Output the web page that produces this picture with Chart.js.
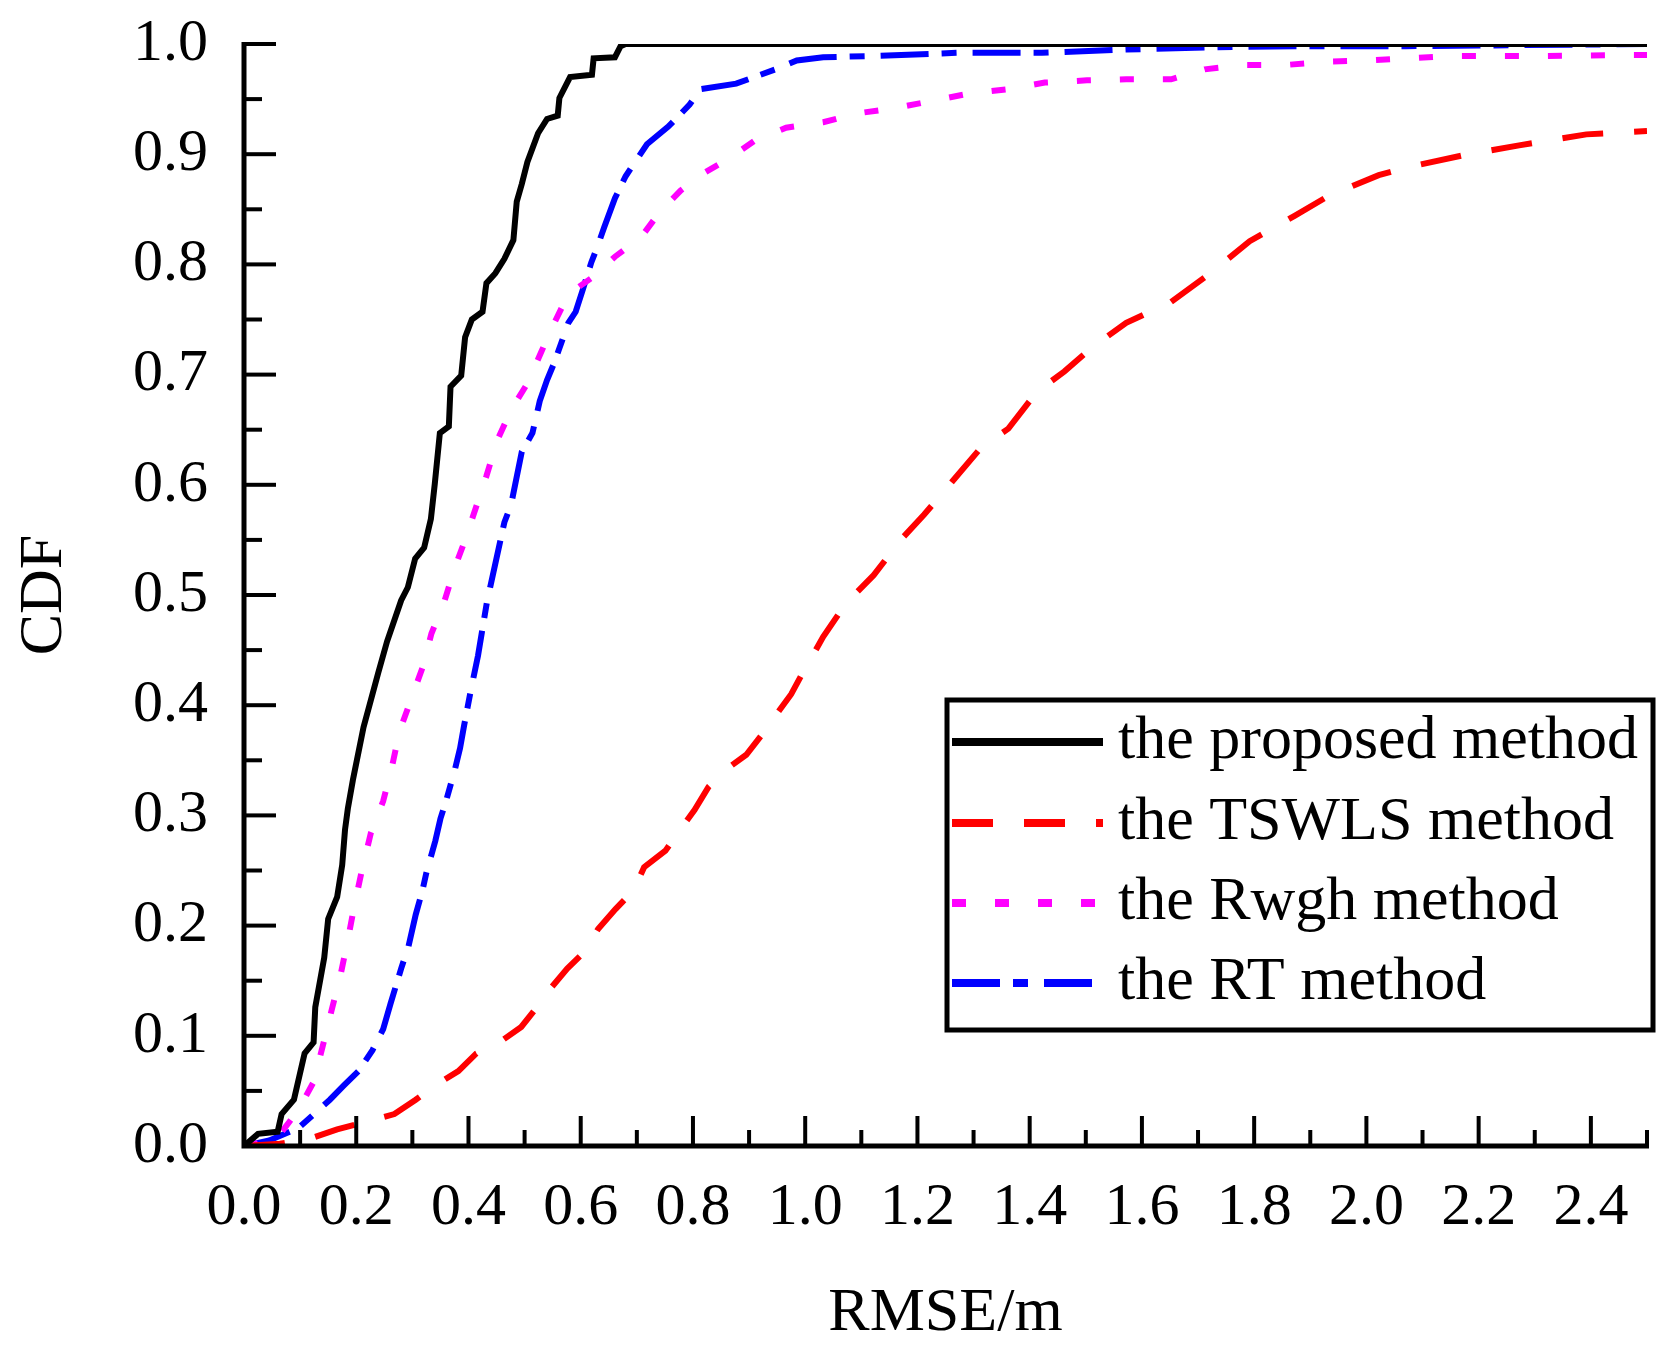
<!DOCTYPE html>
<html>
<head>
<meta charset="utf-8">
<script src="https://cdn.jsdelivr.net/npm/chart.js@4/dist/chart.umd.min.js"></script>
<style>
  html, body { margin: 0; padding: 0; background: #fff; }
  #wrap { width: 1676px; height: 1351px; }
</style>
</head>
<body>
<div id="wrap"><canvas id="cdf" width="1676" height="1351"></canvas></div>
<script>
// series (x = RMSE in m, y = CDF)
const seriesLabels = ['the proposed method', 'the TSWLS method', 'the Rwgh method', 'the RT method'];

const proposedX = [0, 0.025, 0.06, 0.067, 0.089, 0.108, 0.124, 0.127, 0.143, 0.15, 0.166, 0.175, 0.18, 0.185, 0.194,
  0.213, 0.239, 0.255, 0.28, 0.292, 0.305, 0.321, 0.333, 0.34, 0.349, 0.365, 0.368, 0.387, 0.394, 0.406,
  0.425, 0.432, 0.448, 0.464, 0.48, 0.486, 0.495, 0.505, 0.524, 0.54, 0.559, 0.562, 0.581, 0.62, 0.623,
  0.661, 0.671, 0.68, 2.5];
const proposedY = [0, 0.011, 0.013, 0.029, 0.042, 0.084, 0.094, 0.126, 0.171, 0.206, 0.226, 0.255, 0.287, 0.306, 0.332,
  0.38, 0.429, 0.458, 0.495, 0.507, 0.533, 0.543, 0.569, 0.601, 0.647, 0.653, 0.689, 0.699, 0.734, 0.75,
  0.757, 0.783, 0.792, 0.805, 0.822, 0.857, 0.873, 0.893, 0.919, 0.932, 0.935, 0.951, 0.97, 0.972, 0.987,
  0.988, 0.998, 1.0, 1.0];

const tswlsX = [0, 0.064, 0.114, 0.166, 0.21, 0.268, 0.306, 0.341, 0.382, 0.414, 0.455, 0.494, 0.522, 0.548, 0.576,
  0.608, 0.631, 0.662, 0.694, 0.713, 0.751, 0.777, 0.803, 0.828, 0.86, 0.895, 0.924, 0.949, 0.975, 0.992,
  1.032, 1.072, 1.122, 1.172, 1.212, 1.262, 1.312, 1.362, 1.412, 1.462, 1.512, 1.572, 1.652, 1.722, 1.792,
  1.872, 1.932, 2.022, 2.072, 2.172, 2.272, 2.392, 2.5];
const tswlsY = [0, 0.002, 0.006, 0.015, 0.021, 0.029, 0.042, 0.055, 0.068, 0.084, 0.094, 0.108, 0.126, 0.144, 0.161,
  0.177, 0.197, 0.215, 0.232, 0.253, 0.268, 0.287, 0.305, 0.326, 0.342, 0.355, 0.374, 0.392, 0.41, 0.426,
  0.462, 0.492, 0.518, 0.551, 0.573, 0.603, 0.633, 0.651, 0.684, 0.703, 0.725, 0.747, 0.766, 0.792, 0.821,
  0.844, 0.862, 0.881, 0.888, 0.899, 0.908, 0.918, 0.921];

const rwghX = [0, 0.057, 0.096, 0.124, 0.14, 0.156, 0.172, 0.185, 0.197, 0.21, 0.226, 0.248, 0.264, 0.277, 0.296,
  0.318, 0.334, 0.357, 0.375, 0.394, 0.413, 0.432, 0.451, 0.476, 0.505, 0.53, 0.553, 0.578, 0.623, 0.661,
  0.708, 0.74, 0.778, 0.82, 0.864, 0.909, 0.966, 1.032, 1.092, 1.162, 1.222, 1.292, 1.362, 1.427, 1.502,
  1.572, 1.652, 1.712, 1.782, 1.857, 1.932, 2.002, 2.077, 2.152, 2.312, 2.462, 2.5];
const rwghY = [0, 0.006, 0.032, 0.058, 0.09, 0.123, 0.155, 0.187, 0.219, 0.25, 0.284, 0.313, 0.345, 0.376, 0.403,
  0.434, 0.465, 0.494, 0.524, 0.55, 0.579, 0.608, 0.64, 0.668, 0.692, 0.721, 0.747, 0.773, 0.789, 0.807,
  0.825, 0.847, 0.867, 0.883, 0.896, 0.912, 0.924, 0.929, 0.937, 0.942, 0.948, 0.955, 0.959, 0.965, 0.967,
  0.968, 0.968, 0.977, 0.981, 0.981, 0.984, 0.985, 0.987, 0.989, 0.989, 0.99, 0.99];

const rtX = [0, 0.045, 0.096, 0.114, 0.153, 0.178, 0.204, 0.229, 0.248, 0.261, 0.28, 0.293, 0.306, 0.318, 0.325,
  0.341, 0.35, 0.36, 0.376, 0.385, 0.392, 0.404, 0.417, 0.433, 0.464, 0.476, 0.495, 0.514, 0.527, 0.54,
  0.553, 0.578, 0.591, 0.603, 0.619, 0.629, 0.642, 0.661, 0.68, 0.693, 0.718, 0.756, 0.794, 0.813, 0.877,
  0.909, 0.947, 0.985, 1.032, 1.112, 1.272, 1.422, 1.572, 1.722, 1.872, 2.07, 2.5];
const rtY = [0, 0.005, 0.016, 0.024, 0.042, 0.055, 0.068, 0.087, 0.106, 0.129, 0.161, 0.181, 0.21, 0.232, 0.248,
  0.277, 0.297, 0.313, 0.342, 0.361, 0.381, 0.413, 0.445, 0.494, 0.566, 0.582, 0.63, 0.647, 0.676, 0.695,
  0.711, 0.747, 0.757, 0.776, 0.802, 0.815, 0.834, 0.86, 0.88, 0.89, 0.909, 0.925, 0.945, 0.959, 0.964,
  0.97, 0.977, 0.985, 0.988, 0.989, 0.992, 0.992, 0.995, 0.997, 0.998, 0.998, 1.0];

const xMin = 0, xMax = 2.5, xStep = 0.2;
const yMin = 0, yMax = 1.0, yStep = 0.1;

const SERIF = '"Liberation Serif", "Times New Roman", serif';

function pts(xs, ys) {
  return xs.map((x, i) => ({ x: x, y: ys[i] }));
}

// inward ticks + axis lines, drawn on top of the curves
const axesPlugin = {
  id: 'axesPlugin',
  afterDatasetsDraw(chart) {
    const { ctx, chartArea, scales } = chart;
    const xs = scales.x, ys = scales.y;
    ctx.save();
    ctx.strokeStyle = '#000';
    ctx.lineCap = 'butt';

    // y ticks (major every 0.1, minor halfway)
    ctx.lineWidth = 4;
    for (let i = 0; i <= 20; i++) {
      const v = yMin + i * yStep / 2;
      const py = ys.getPixelForValue(v);
      const len = i % 2 === 0 ? 32 : 18;
      ctx.beginPath();
      ctx.moveTo(chartArea.left, py);
      ctx.lineTo(chartArea.left + len, py);
      ctx.stroke();
    }
    // x ticks (major every 0.2, minor at 0.1)
    for (let i = 0; i <= 25; i++) {
      const v = xMin + i * 0.1;
      const px = xs.getPixelForValue(v);
      const len = i % 2 === 0 ? 30 : 16;
      ctx.beginPath();
      ctx.moveTo(px, chartArea.bottom);
      ctx.lineTo(px, chartArea.bottom - len);
      ctx.stroke();
    }
    // axis lines
    ctx.lineWidth = 5;
    ctx.beginPath();
    ctx.moveTo(chartArea.left, chartArea.top - 2);
    ctx.lineTo(chartArea.left, chartArea.bottom);
    ctx.lineTo(chartArea.right + 2, chartArea.bottom);
    ctx.stroke();
    ctx.restore();
  }
};

// boxed legend sitting inside the plot, lower right
const legendPlugin = {
  id: 'boxLegend',
  afterDraw(chart) {
    const { ctx } = chart;
    const box = { left: 947, top: 700, right: 1653, bottom: 1030 };
    const rows = [742, 823, 903, 983];
    ctx.save();
    ctx.lineWidth = 5;
    ctx.strokeStyle = '#000';
    ctx.setLineDash([]);
    ctx.strokeRect(box.left, box.top, box.right - box.left, box.bottom - box.top);

    chart.data.datasets.forEach((ds, i) => {
      const y = rows[i];
      ctx.beginPath();
      ctx.strokeStyle = ds.borderColor;
      ctx.lineWidth = 8;
      ctx.lineCap = 'butt';
      ctx.setLineDash(ds.borderDash || []);
      ctx.moveTo(952, y);
      ctx.lineTo(1103, y);
      ctx.stroke();
      ctx.setLineDash([]);
      ctx.fillStyle = '#000';
      ctx.font = '62px ' + SERIF;
      ctx.textBaseline = 'middle';
      ctx.textAlign = 'left';
      ctx.fillText(ds.label, 1118, y);
    });
    ctx.restore();
  }
};

new Chart(document.getElementById('cdf'), {
  type: 'line',
  data: {
    datasets: [
      { label: seriesLabels[0], data: pts(proposedX, proposedY), borderColor: '#000000', borderWidth: 6, borderDash: [] },
      { label: seriesLabels[1], data: pts(tswlsX, tswlsY), borderColor: '#FF0000', borderWidth: 6, borderDash: [41, 31] },
      { label: seriesLabels[2], data: pts(rwghX, rwghY), borderColor: '#FF00FF', borderWidth: 6, borderDash: [14, 29] },
      { label: seriesLabels[3], data: pts(rtX, rtY), borderColor: '#0000FF', borderWidth: 6, borderDash: [48, 13, 15, 16] }
    ]
  },
  options: {
    responsive: false,
    devicePixelRatio: 1,
    animation: false,
    parsing: false,
    elements: {
      point: { radius: 0 },
      line: { tension: 0, fill: false, borderCapStyle: 'butt', borderJoinStyle: 'miter' }
    },
    layout: { autoPadding: false, padding: { top: 44, right: 29, bottom: 0, left: 0 } },
    plugins: {
      legend: { display: false },
      tooltip: { enabled: false }
    },
    scales: {
      x: {
        type: 'linear',
        min: xMin,
        max: xMax,
        grid: { display: false, drawTicks: false },
        border: { display: false },
        ticks: {
          stepSize: xStep,
          includeBounds: false,
          padding: 26,
          color: '#000',
          font: { family: SERIF, size: 60 },
          maxRotation: 0,
          callback: (v) => v.toFixed(1)
        },
        title: {
          display: true,
          text: 'RMSE/m',
          color: '#000',
          font: { family: SERIF, size: 62 },
          padding: { top: 0, bottom: 0 }
        },
        afterFit: (scale) => {
          scale.height = 205;
          scale.paddingLeft = 0;
          scale.paddingRight = 0;
        }
      },
      y: {
        type: 'linear',
        min: yMin,
        max: yMax,
        grid: { display: false, drawTicks: false },
        border: { display: false },
        ticks: {
          stepSize: yStep,
          padding: 36,
          color: '#000',
          font: { family: SERIF, size: 60 },
          callback: (v) => v.toFixed(1)
        },
        title: {
          display: true,
          text: 'CDF',
          color: '#000',
          font: { family: SERIF, size: 62 },
          padding: { top: 8, bottom: 0 }
        },
        afterFit: (scale) => {
          scale.width = 244;
          // the label padding would otherwise push the plot top down
          scale.paddingTop = 0;
          scale.paddingBottom = 0;
        }
      }
    }
  },
  plugins: [axesPlugin, legendPlugin]
});
</script>
</body>
</html>
